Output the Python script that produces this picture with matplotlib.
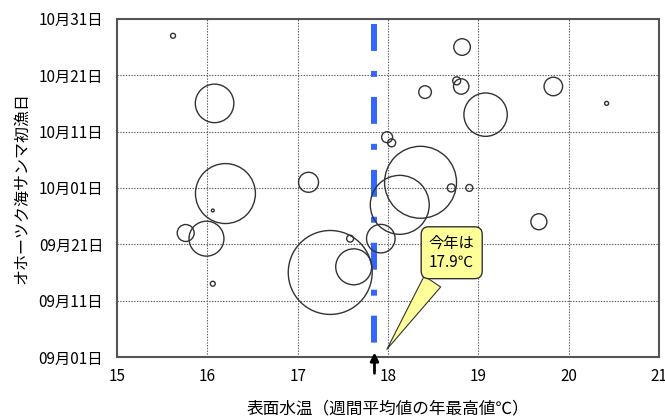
from datetime import date

import matplotlib
matplotlib.use('Agg')
import matplotlib.pyplot as plt

plt.rcParams['font.family'] = ['Noto Sans CJK JP', 'DejaVu Sans']
plt.rcParams['lines.scale_dashes'] = False

# 表面水温 (週間平均値の年最高値, ℃)
temps = [15.62, 16.08, 16.20, 16.06, 15.76, 15.99, 16.06, 17.12, 17.36, 17.62,
         17.58, 17.92, 18.13, 18.36, 18.70, 18.90, 17.99, 18.04, 18.82, 18.76,
         18.81, 18.41, 19.83, 20.42, 19.08, 19.67]
# 初漁日 (月/日)
first_days = ['10/28', '10/16', '09/30', '09/27', '09/23', '09/22', '09/14', '10/02',
              '09/16', '09/17', '09/22', '09/22', '09/28', '10/02', '10/01', '10/01',
              '10/10', '10/09', '10/26', '10/20', '10/19', '10/18', '10/19', '10/16',
              '10/14', '09/25']
# バブルの大きさ
amounts = [6, 372, 900, 2, 72, 306, 6, 100, 1764, 324,
           12, 204, 870, 1296, 16, 12, 30, 16, 69, 16,
           59, 40, 86, 4, 471, 64]

this_year = 17.85
this_year_label = '今年は\n17.9℃'

x_ticks = [15, 16, 17, 18, 19, 20, 21]
y_tick_labels = ['09月01日', '09月11日', '09月21日', '10月01日', '10月11日', '10月21日', '10月31日']

start = date(2000, 9, 1)


def to_day(s):
    m, d = s.split('/')
    return (date(2000, int(m), int(d)) - start).days


days = [to_day(s) for s in first_days]

fig = plt.figure(figsize=(6.65, 4.19), dpi=100)
ax = fig.add_axes([0.176, 0.148, 0.815, 0.807])

ax.scatter(temps, days, s=[a * 2.07 for a in amounts], facecolors='none',
           edgecolors='#333333', linewidths=1.0, zorder=3, clip_on=False)

# 今年の水温
ax.plot([this_year, this_year], [60, 0], color='#3366ff', lw=4.3,
        linestyle=(48.9, (19.4, 14.4, 4.3, 14.4)),
        dash_capstyle='butt', zorder=2)

ax.annotate(this_year_label, xy=(17.97, 0.95), xytext=(18.705, 18.5),
            ha='center', va='center', multialignment='left', fontsize=11,
            bbox=dict(boxstyle='round,pad=0.5,rounding_size=0.5', fc='#ffff99', ec='#333333', lw=1.0),
            arrowprops=dict(arrowstyle='wedge,tail_width=1.3,shrink_factor=0.5',
                            fc='#ffff99', ec='#333333', lw=0.8),
            zorder=5)

ax.annotate('', xy=(this_year, 0.8), xytext=(0, -15), textcoords='offset points',
            arrowprops=dict(arrowstyle='-|>', color='black', lw=2.0, mutation_scale=12,
                            shrinkA=0, shrinkB=0),
            annotation_clip=False)

ax.set_xlim(15, 21)
ax.set_ylim(0, 60)
ax.set_xticks(x_ticks)
ax.set_yticks(range(0, 61, 10))
ax.set_yticklabels(y_tick_labels)
ax.tick_params(length=0, labelsize=11)
ax.tick_params(axis='y', pad=10)
ax.tick_params(axis='x', pad=8)

ax.grid(True, color='#606060', lw=0.8, linestyle=(0, (1, 1)))
ax.set_axisbelow(True)
for sp in ax.spines.values():
    sp.set_color('#555555')
    sp.set_linewidth(1.5)

ax.set_xlabel('表面水温（週間平均値の年最高値℃）', fontsize=12, labelpad=11)
ax.set_ylabel('オホーツク海サンマ初漁日', fontsize=11.5, labelpad=6)

fig.savefig('out.png', dpi=100)
